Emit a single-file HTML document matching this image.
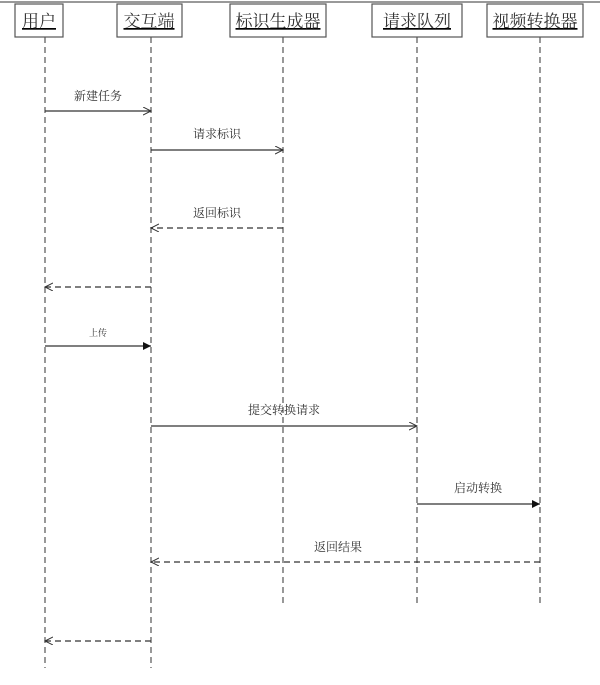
<!DOCTYPE html>
<html><head><meta charset="utf-8"><style>
body{margin:0;background:#fff;}
svg text{font-family:"Liberation Serif","Noto Serif CJK SC",serif;fill:#333;}
</style></head><body>
<svg width="600" height="680" xmlns="http://www.w3.org/2000/svg">
<defs>
<marker id="o" markerWidth="10" markerHeight="10" refX="8" refY="4" orient="auto" markerUnits="userSpaceOnUse"><path d="M0,0 L8,4 L0,8" fill="none" stroke="#333" stroke-width="1"/></marker>
<marker id="f" markerWidth="10" markerHeight="10" refX="8" refY="4" orient="auto" markerUnits="userSpaceOnUse"><path d="M0,0 L8,4 L0,8 Z" fill="#111"/></marker>
</defs>
<line x1="0" y1="2" x2="600" y2="2" stroke="#999" stroke-width="2"/>
<g stroke="#555" stroke-width="1.2" stroke-dasharray="6,4" fill="none">
<line x1="45" y1="37" x2="45" y2="668"/>
<line x1="151" y1="37" x2="151" y2="668"/>
<line x1="283" y1="37" x2="283" y2="605"/>
<line x1="417" y1="37" x2="417" y2="605"/>
<line x1="540" y1="37" x2="540" y2="605"/>
</g>
<g fill="#fff" stroke="#555" stroke-width="1.2">
<rect x="15" y="4" width="48" height="33"/>
<rect x="117" y="4" width="65" height="33"/>
<rect x="230" y="4" width="96" height="33"/>
<rect x="372" y="4" width="90" height="33"/>
<rect x="487" y="4" width="96" height="33"/>
</g>
<g font-size="17" text-anchor="middle" text-decoration="underline">
<text x="39" y="27">用户</text>
<text x="149" y="27">交互端</text>
<text x="278" y="27">标识生成器</text>
<text x="417" y="27">请求队列</text>
<text x="535" y="27">视频转换器</text>
</g>
<g stroke="#333" stroke-width="1.2" fill="none">
<line x1="45" y1="111" x2="151" y2="111" marker-end="url(#o)"/>
<line x1="151" y1="150" x2="283" y2="150" marker-end="url(#o)"/>
<line x1="283" y1="228" x2="151" y2="228" stroke-dasharray="6,4" marker-end="url(#o)"/>
<line x1="151" y1="287" x2="45" y2="287" stroke-dasharray="6,4" marker-end="url(#o)"/>
<line x1="45" y1="346" x2="151" y2="346" marker-end="url(#f)"/>
<line x1="151" y1="426" x2="417" y2="426" marker-end="url(#o)"/>
<line x1="417" y1="504" x2="540" y2="504" marker-end="url(#f)"/>
<line x1="540" y1="562" x2="151" y2="562" stroke-dasharray="6,4" marker-end="url(#o)"/>
<line x1="151" y1="641" x2="45" y2="641" stroke-dasharray="6,4" marker-end="url(#o)"/>
</g>
<g font-size="12" text-anchor="middle">
<text x="98" y="100">新建任务</text>
<text x="217" y="138">请求标识</text>
<text x="217" y="217">返回标识</text>
<text x="98" y="336" font-size="9">上传</text>
<text x="284" y="414">提交转换请求</text>
<text x="478" y="492">启动转换</text>
<text x="338" y="551">返回结果</text>
</g>
</svg>
</body></html>
